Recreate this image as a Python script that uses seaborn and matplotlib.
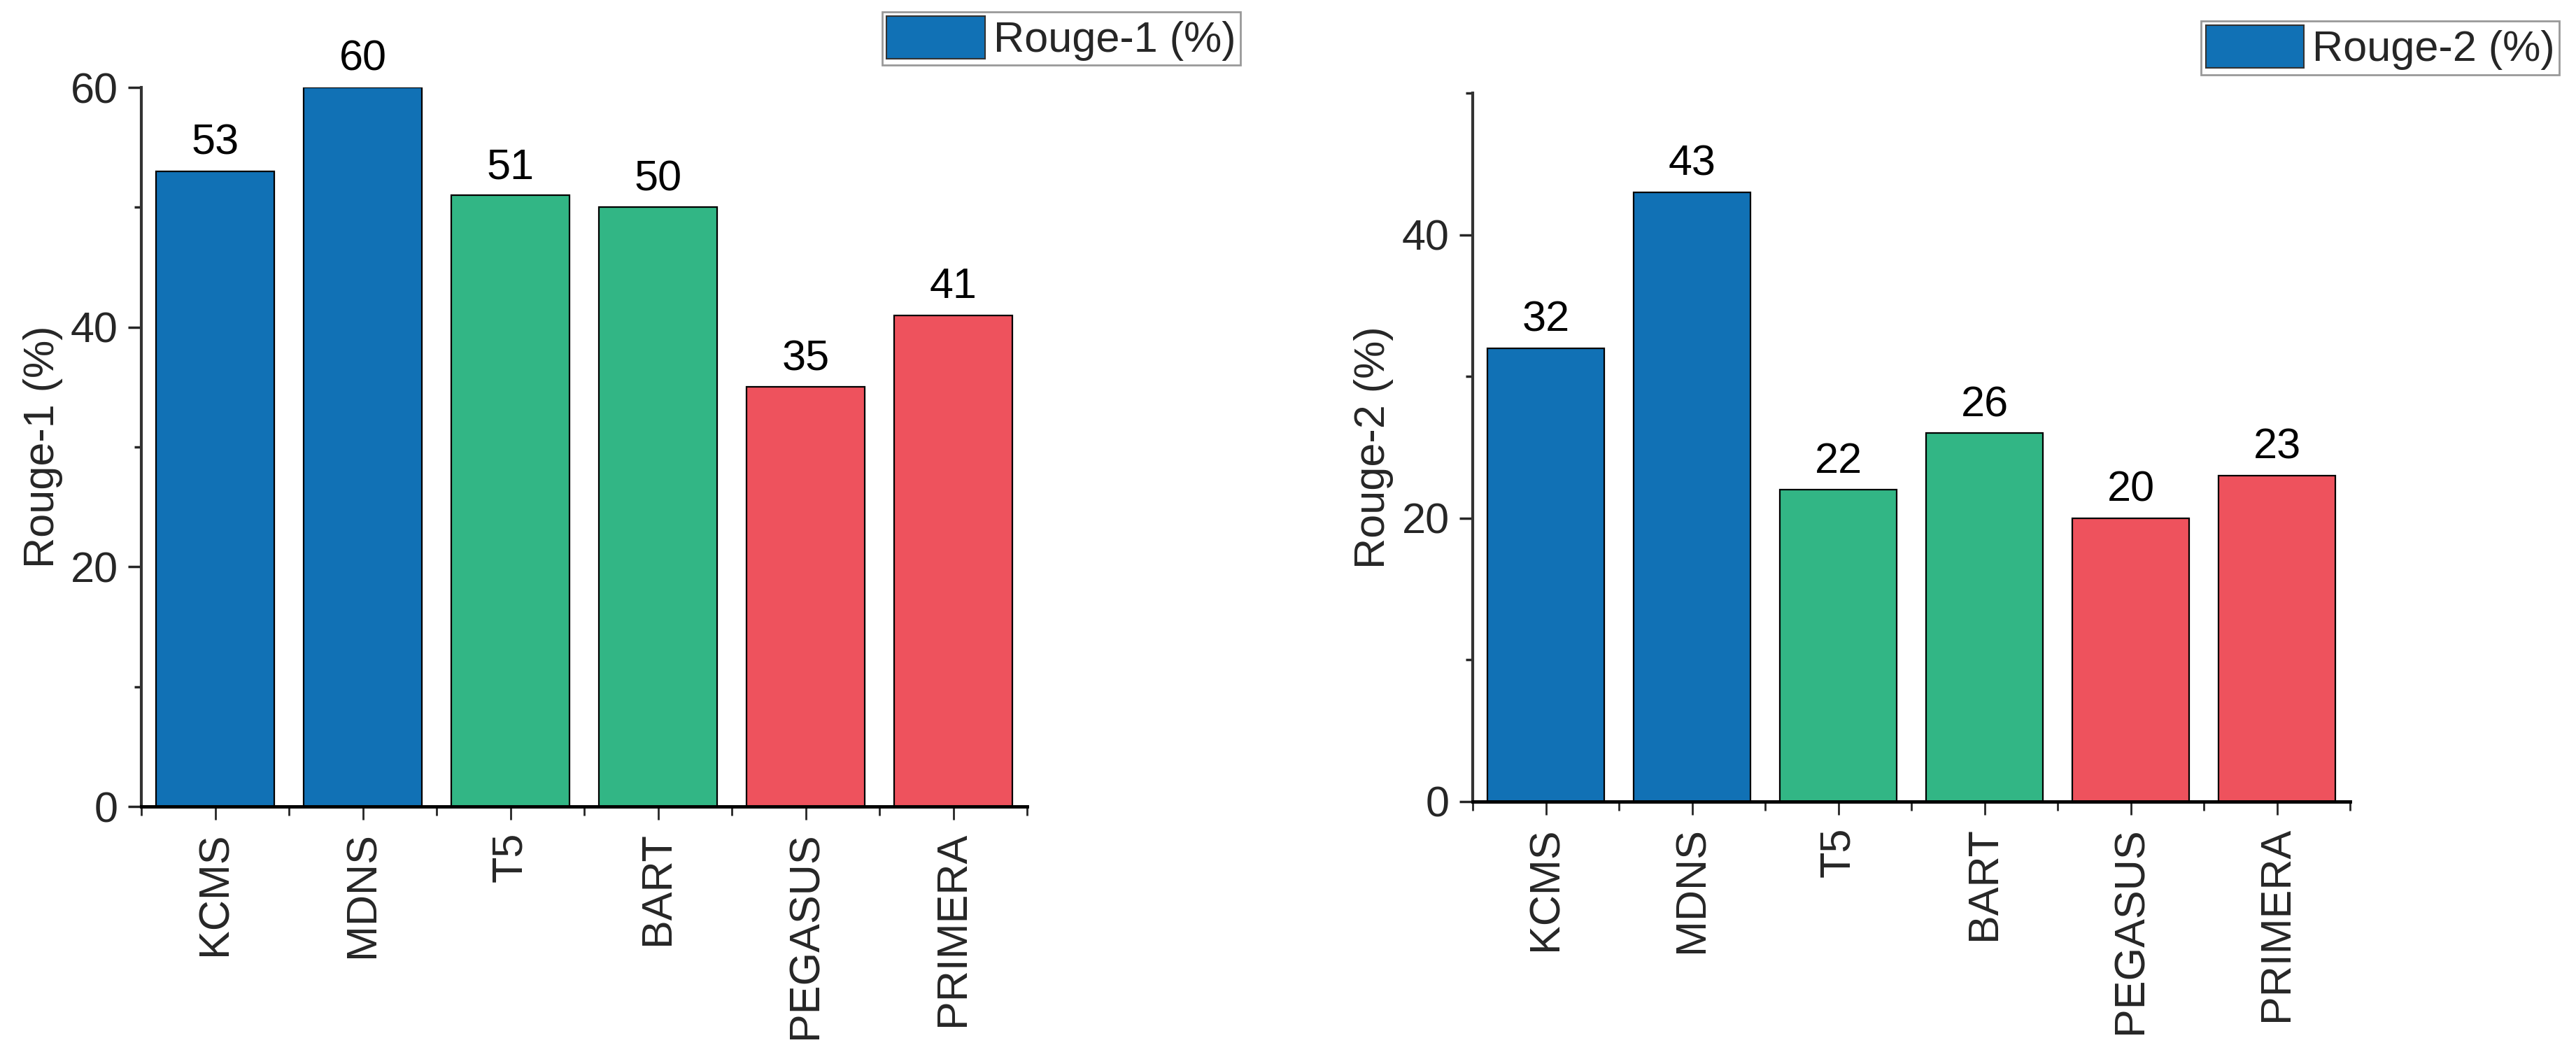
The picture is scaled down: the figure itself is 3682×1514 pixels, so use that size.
import matplotlib
matplotlib.use("Agg")
import matplotlib.pyplot as plt
import seaborn as sns
import pandas as pd
from matplotlib.patches import Patch
from matplotlib.ticker import MultipleLocator, FixedLocator

models = ["KCMS", "MDNS", "T5", "BART", "PEGASUS", "PRIMERA"]
rouge1 = [53, 60, 51, 50, 35, 41]
rouge2 = [32, 43, 22, 26, 20, 23]
bar_colors = ["#1171B5", "#1171B5", "#32B685", "#32B685", "#EE525D", "#EE525D"]
legend_color = "#1171B5"
ylabels = ["Rouge-1 (%)", "Rouge-2 (%)"]
ylims = [60, 50]
major_ticks = [[0, 20, 40, 60], [0, 20, 40]]

sns.set_style("ticks")
plt.rcParams["font.family"] = ["Liberation Sans", "DejaVu Sans"]
FS = 44

fig = plt.figure(figsize=(36.82, 15.14), dpi=100)
axes = [
    fig.add_axes([0.0549, 0.2384, 0.3438, 0.679]),
    fig.add_axes([0.5717, 0.2431, 0.3406, 0.669]),
]
legend_anchor = [(0.4815, 0.9888), (0.9935, 0.980)]

for i, (ax, vals) in enumerate(zip(axes, [rouge1, rouge2])):
    df = pd.DataFrame({"model": models, "value": vals})
    sns.barplot(data=df, x="model", y="value", hue="model", palette=bar_colors,
                legend=False, width=0.8, edgecolor="black", linewidth=1.6,
                saturation=1, ax=ax)
    for c in ax.containers:
        ax.bar_label(c, fmt="%d", padding=8, fontsize=FS, color="black")
    ax.set_xlim(-0.5, 5.5)
    ax.set_ylim(0, ylims[i])
    ax.yaxis.set_major_locator(FixedLocator(major_ticks[i]))
    ax.yaxis.set_minor_locator(FixedLocator([10, 30, 50]))
    ax.xaxis.set_minor_locator(FixedLocator([k - 0.5 for k in range(7)]))
    ax.set_xlabel("")
    ax.set_ylabel(ylabels[i], fontsize=FS, labelpad=8)
    ax.tick_params(axis="x", which="major", length=14, width=2, pad=12,
                   labelsize=FS, labelrotation=90, direction="out")
    ax.tick_params(axis="x", which="minor", length=9, width=2, direction="out")
    ax.tick_params(axis="y", which="major", length=14, width=2.5, pad=10,
                   labelsize=FS, direction="out")
    ax.tick_params(axis="y", which="minor", length=7, width=2.5, direction="out")
    sns.despine(ax=ax)
    ax.spines["left"].set_linewidth(3)
    ax.spines["left"].set_color("#333333")
    ax.spines["bottom"].set_linewidth(3.5)
    ax.spines["bottom"].set_color("black")
    handle = Patch(facecolor=legend_color, edgecolor="#333333", linewidth=1.5)
    leg = fig.legend([handle], [ylabels[i]], loc="upper right",
                     bbox_to_anchor=legend_anchor[i], fontsize=FS,
                     frameon=True, fancybox=False, edgecolor="#999999",
                     framealpha=1, handlelength=2.3, handleheight=1.15,
                     handletextpad=0.2, borderpad=0.1, borderaxespad=0)
    leg.get_frame().set_linewidth(2)

fig.savefig("out.png", dpi=100)
